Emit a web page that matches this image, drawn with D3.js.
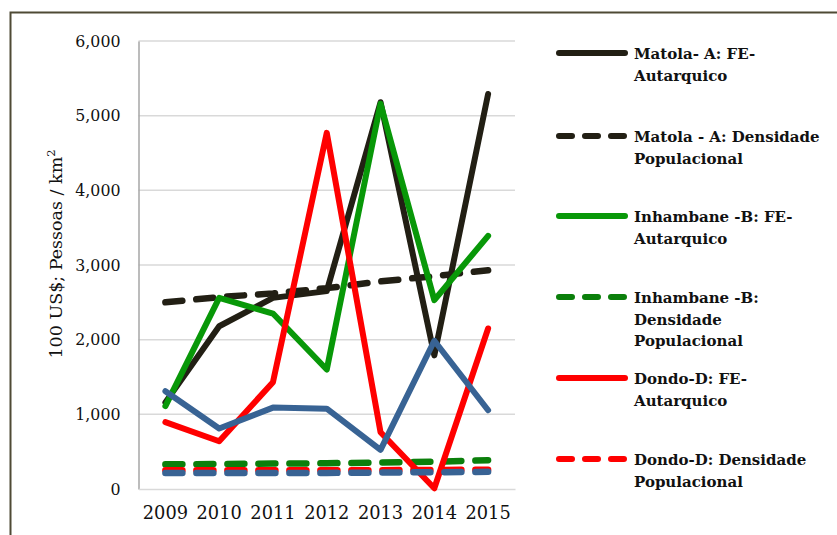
<!DOCTYPE html>
<html>
<head>
<meta charset="utf-8">
<script src="https://cdn.jsdelivr.net/npm/d3@7"></script>
<style>
  body { margin: 0; background: #fff; }
  svg { display: block; }
</style>
</head>
<body>
<div id="chart"></div>
<script>
// data
const years = ["2009", "2010", "2011", "2012", "2013", "2014", "2015"];
const yTicks = [0, 1000, 2000, 3000, 4000, 5000, 6000];

const matolaFE = [1160, 2180, 2560, 2650, 5180, 1790, 5290];
const matolaDens = [2500, 2570, 2620, 2690, 2780, 2850, 2930];
const inhambaneFE = [1110, 2560, 2350, 1600, 5160, 2530, 3390];
const inhambaneDens = [330, 335, 340, 345, 355, 365, 385];
const dondoFE = [895, 640, 1430, 4770, 760, 10, 2150];
const dondoDens = [252, 252, 252, 252, 252, 255, 258];
const otherFE = [1310, 810, 1090, 1075, 525, 1985, 1055];
const otherDens = [215, 215, 215, 215, 220, 225, 230];

const series = [
  { name: ["Matola- A: FE-", "Autarquico"], values: matolaFE, color: "#221f14", dash: false, legY: 53 },
  { name: ["Matola - A: Densidade", "Populacional"], values: matolaDens, color: "#221f14", dash: true, legY: 136 },
  { name: ["Inhambane -B: FE-", "Autarquico"], values: inhambaneFE, color: "#089808", dash: false, legY: 216 },
  { name: ["Inhambane -B:", "Densidade", "Populacional"], values: inhambaneDens, color: "#0b7f0b", dash: true, legY: 297 },
  { name: ["Dondo-D: FE-", "Autarquico"], values: dondoFE, color: "#ff0000", dash: false, legY: 378 },
  { name: ["Dondo-D: Densidade", "Populacional"], values: dondoDens, color: "#ff0000", dash: true, legY: 459 },
  { name: null, values: otherFE, color: "#386394", dash: false },
  { name: null, values: otherDens, color: "#386394", dash: true }
];

const W = 837, H = 535;
const plot = { left: 138.5, right: 515, top: 41, bottom: 489 };

const svg = d3.select("#chart").append("svg")
  .attr("width", W).attr("height", H);

// outer frame (runs off the right and bottom edges)
svg.append("rect")
  .attr("x", 10.5).attr("y", 12.5)
  .attr("width", 900).attr("height", 600)
  .attr("fill", "none")
  .attr("stroke", "#4f4a35")
  .attr("stroke-width", 2);

const x = d3.scaleBand().domain(years).range([plot.left, plot.right]);
const y = d3.scaleLinear().domain([0, 6000]).range([plot.bottom, plot.top]);

// gridlines
svg.append("g")
  .selectAll("line")
  .data(yTicks.filter(d => d > 0))
  .enter().append("line")
  .attr("x1", plot.left).attr("x2", plot.right)
  .attr("y1", d => y(d)).attr("y2", d => y(d))
  .attr("stroke", "#d9d9d9")
  .attr("stroke-width", 1.5);

// y axis
const yAxis = svg.append("g")
  .attr("transform", "translate(" + plot.left + ",0)")
  .call(d3.axisLeft(y).tickValues(yTicks).tickFormat(d3.format(",")).tickSize(0).tickPadding(18));
yAxis.select(".domain").attr("stroke", "#a6a6a6").attr("stroke-width", 1.5);
yAxis.selectAll("text")
  .attr("font-family", "DejaVu Serif")
  .attr("font-size", 15.8)
  .attr("fill", "#111");

// x axis
const xAxis = svg.append("g")
  .attr("transform", "translate(0," + plot.bottom + ")")
  .call(d3.axisBottom(x).tickSize(0).tickPadding(17));
xAxis.select(".domain").attr("stroke", "#d9d9d9").attr("stroke-width", 1.5);
xAxis.selectAll("text")
  .attr("font-family", "DejaVu Serif")
  .attr("font-size", 17.8)
  .attr("fill", "#111");

// y axis title
svg.append("text")
  .attr("transform", "translate(62,254) rotate(-90)")
  .attr("text-anchor", "middle")
  .attr("font-family", "DejaVu Serif")
  .attr("font-size", 17.5)
  .attr("fill", "#111")
  .html("100 US$; Pessoas / km<tspan dy='-7' font-size='11.5'>2</tspan>");

// lines
const line = d3.line()
  .x((d, i) => x(years[i]) + x.bandwidth() / 2)
  .y(d => y(d));

svg.append("g")
  .selectAll("path")
  .data(series)
  .enter().append("path")
  .attr("d", d => line(d.values))
  .attr("fill", "none")
  .attr("stroke", d => d.color)
  .attr("stroke-width", d => d.dash ? 6.5 : 6)
  .attr("stroke-linecap", "round")
  .attr("stroke-linejoin", "round")
  .attr("stroke-dasharray", d => d.dash ? "17,14" : null);

// legend
const leg = svg.append("g")
  .selectAll("g")
  .data(series.filter(d => d.name))
  .enter().append("g")
  .attr("transform", d => "translate(0," + d.legY + ")");

leg.append("line")
  .attr("x1", 559).attr("x2", 625)
  .attr("stroke", d => d.color)
  .attr("stroke-width", 6)
  .attr("stroke-linecap", "round")
  .attr("stroke-dasharray", d => d.dash ? "13,13" : null);

leg.append("text")
  .attr("x", 634)
  .attr("font-family", "DejaVu Serif")
  .attr("font-weight", "bold")
  .attr("font-size", 15)
  .attr("fill", "#111")
  .selectAll("tspan")
  .data(d => d.name)
  .enter().append("tspan")
  .attr("x", 634)
  .attr("y", (d, i) => 6 + i * 21.7)
  .text(d => d);
</script>
</body>
</html>
